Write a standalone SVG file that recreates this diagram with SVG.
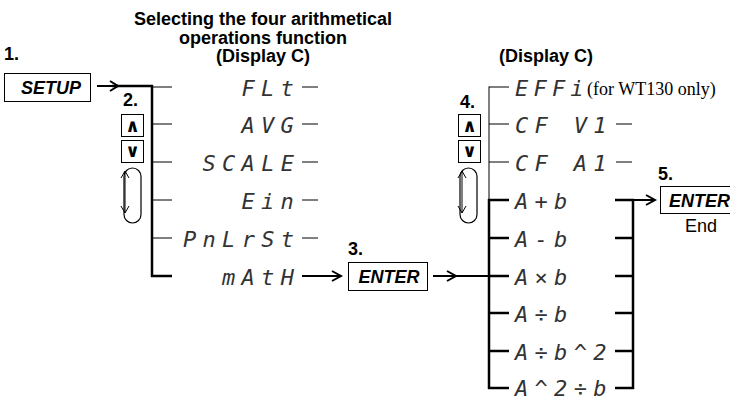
<svg xmlns="http://www.w3.org/2000/svg" width="730" height="397" viewBox="0 0 730 397">
<defs>
<style>
.t{font-family:"Liberation Sans",Arial,sans-serif;font-size:18px;font-weight:bold;fill:#000}
.k{font-family:"Liberation Sans",Arial,sans-serif;font-size:18px;font-weight:bold;font-style:italic;fill:#000}
.r{font-family:"Liberation Sans",Arial,sans-serif;font-size:18px;fill:#000}
.s{font-family:"Liberation Serif","Times New Roman",serif;font-size:18px;fill:#000}
.d{font-family:"DejaVu Sans Mono",monospace;font-size:22px;font-style:italic;letter-spacing:6.3px;fill:#333}
.sym{font-family:"DejaVu Sans",sans-serif;font-size:18px;font-weight:bold;fill:#000}
.box{fill:#fff;stroke:#000;stroke-width:1}
.thin{stroke:#000;stroke-width:1;fill:none}
.thick{stroke:#000;stroke-width:2.5;fill:none}
.arr{stroke:#000;stroke-width:2;fill:none}
.head{stroke:#000;stroke-width:2;fill:none;stroke-linejoin:miter}
.oval{fill:none;stroke:#000;stroke-width:1.2}
</style>
</defs>
<g id="title">
<text class="t" x="263" y="25" text-anchor="middle">Selecting the four arithmetical</text>
<text class="t" x="263" y="43.5" text-anchor="middle">operations function</text>
<text class="t" x="263" y="62" text-anchor="middle">(Display C)</text>
<text class="t" x="546" y="62" text-anchor="middle">(Display C)</text>
</g>
<g id="step1">
<text class="t" x="4" y="60">1.</text>
<rect class="box" x="4.5" y="73.5" width="86" height="28"/>
<text class="k" x="51" y="94" text-anchor="middle">SETUP</text>
</g>
<g id="step2">
<text class="t" x="123" y="106">2.</text>
<rect class="box" x="121.5" y="114.5" width="22" height="22"/>
<text class="sym" x="132.5" y="131.5" text-anchor="middle">∧</text>
<rect class="box" x="121.5" y="140.5" width="22" height="22"/>
<text class="sym" x="132.5" y="157" text-anchor="middle">∨</text>
<rect class="oval" x="124" y="168" width="17" height="55" rx="8.5"/>
<line class="thin" x1="125" y1="171" x2="125" y2="213"/>
<polyline class="thin" points="121,178 125,171 129,178"/>
<polyline class="thin" points="121,206 125,213 129,206"/>
</g>
<g id="step3">
<text class="t" x="348" y="255">3.</text>
<rect class="box" x="348.5" y="262.5" width="79" height="28"/>
<text class="k" x="389" y="283" text-anchor="middle">ENTER</text>
</g>
<g id="step4">
<text class="t" x="460" y="108">4.</text>
<rect class="box" x="458.5" y="114.5" width="22" height="22"/>
<text class="sym" x="469.5" y="131.5" text-anchor="middle">∧</text>
<rect class="box" x="458.5" y="140.5" width="22" height="22"/>
<text class="sym" x="469.5" y="157" text-anchor="middle">∨</text>
<rect class="oval" x="460" y="168" width="17" height="55" rx="8.5"/>
<line class="thin" x1="462" y1="171" x2="462" y2="213"/>
<polyline class="thin" points="458,178 462,171 466,178"/>
<polyline class="thin" points="458,206 462,213 466,206"/>
</g>
<g id="step5">
<text class="t" x="658" y="180">5.</text>
<rect class="box" x="660.5" y="186.5" width="80" height="27"/>
<text class="k" x="669" y="207">ENTER</text>
<text class="r" x="701" y="232" text-anchor="middle">End</text>
</g>
<g id="menu1">
<text class="d" x="241.5" y="96">FLt</text>
<text class="d" x="241.5" y="133">AVG</text>
<text class="d" x="202.5" y="171">SCALE</text>
<text class="d" x="241.5" y="209">Ein</text>
<text class="d" x="183" y="247">PnLrSt</text>
<text class="d" x="222" y="285">mAtH</text>
</g>
<g id="menu2">
<text class="d" x="515" y="96" style="letter-spacing:5.2px">EFFi</text>
<text class="s" x="587" y="95">(for WT130 only)</text>
<text class="d" x="515" y="133">CF V1</text>
<text class="d" x="515" y="171">CF A1</text>
<text class="d" x="515" y="209">A+b</text>
<text class="d" x="515" y="247">A-b</text>
<text class="d" x="515" y="285">A×b</text>
<text class="d" x="515" y="322">A÷b</text>
<text class="d" x="515" y="360">A÷b^2</text>
<text class="d" x="515" y="396">A^2÷b</text>
</g>
<g id="connectors">
<line class="arr" x1="97" y1="86" x2="118" y2="86"/>
<polyline class="head" points="110,81 118,86 110,91"/>
<line class="thick" x1="112" y1="86" x2="153" y2="86"/>
<line class="thick" x1="152" y1="85" x2="152" y2="277"/>
<line class="thin" x1="152" y1="87" x2="172" y2="87"/>
<line class="thin" x1="152" y1="124" x2="172" y2="124"/>
<line class="thin" x1="152" y1="162" x2="172" y2="162"/>
<line class="thin" x1="152" y1="200" x2="172" y2="200"/>
<line class="thin" x1="152" y1="238" x2="172" y2="238"/>
<line class="thick" x1="151" y1="276" x2="172" y2="276"/>
<line class="thin" x1="302" y1="87" x2="318" y2="87"/>
<line class="thin" x1="302" y1="124" x2="318" y2="124"/>
<line class="thin" x1="302" y1="162" x2="318" y2="162"/>
<line class="thin" x1="302" y1="200" x2="318" y2="200"/>
<line class="thin" x1="302" y1="238" x2="318" y2="238"/>
<line class="arr" x1="302" y1="276" x2="340" y2="276"/>
<polyline class="head" points="332,271 341,276 332,281"/>
<line class="arr" x1="433" y1="276" x2="489" y2="276"/>
<polyline class="head" points="447,271 456,276 447,281"/>
<line class="thin" x1="489" y1="86.5" x2="489" y2="200"/>
<line class="thin" x1="489" y1="87" x2="509" y2="87"/>
<line class="thin" x1="489" y1="124" x2="509" y2="124"/>
<line class="thin" x1="489" y1="162" x2="509" y2="162"/>
<line class="thick" x1="489" y1="199" x2="489" y2="389"/>
<line class="thick" x1="488" y1="200" x2="509" y2="200"/>
<line class="thick" x1="489" y1="238" x2="509" y2="238"/>
<line class="thick" x1="489" y1="276" x2="509" y2="276"/>
<line class="thick" x1="489" y1="313" x2="509" y2="313"/>
<line class="thick" x1="489" y1="351" x2="509" y2="351"/>
<line class="thick" x1="488" y1="388" x2="509" y2="388"/>
<line class="thin" x1="616" y1="124" x2="632" y2="124"/>
<line class="thin" x1="616" y1="162" x2="632" y2="162"/>
<line class="thick" x1="633" y1="199" x2="633" y2="389"/>
<line class="thick" x1="615" y1="200" x2="634" y2="200"/>
<line class="thick" x1="615" y1="238" x2="633" y2="238"/>
<line class="thick" x1="615" y1="276" x2="633" y2="276"/>
<line class="thick" x1="615" y1="313" x2="633" y2="313"/>
<line class="thick" x1="615" y1="351" x2="633" y2="351"/>
<line class="thick" x1="615" y1="388" x2="634" y2="388"/>
<line class="arr" x1="633" y1="200" x2="655" y2="200"/>
<polyline class="head" points="646,195 655,200 646,205"/>
</g>
</svg>
